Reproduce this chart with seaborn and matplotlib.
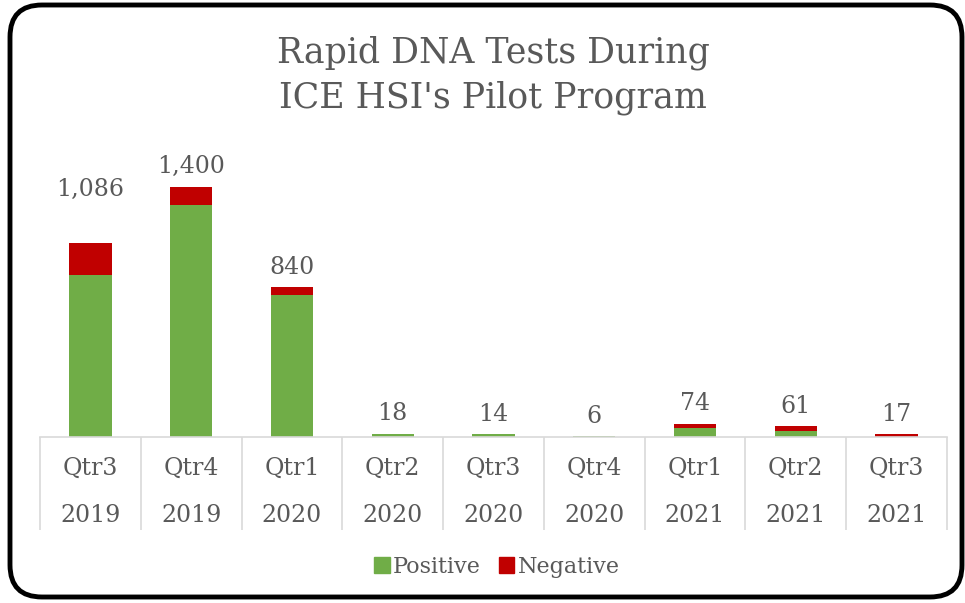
import matplotlib
matplotlib.use('Agg')
import matplotlib.pyplot as plt
import seaborn as sns
import pandas as pd
from matplotlib.patches import FancyBboxPatch, Patch
from matplotlib.transforms import IdentityTransform

quarters = ['Qtr3', 'Qtr4', 'Qtr1', 'Qtr2', 'Qtr3', 'Qtr4', 'Qtr1', 'Qtr2', 'Qtr3']
years = ['2019', '2019', '2020', '2020', '2020', '2020', '2021', '2021', '2021']
positive = [907, 1300, 795, 18, 14, 6, 50, 35, 0]
negative = [179, 100, 45, 0, 0, 0, 24, 26, 17]

labels = [q + '\n' + y for q, y in zip(quarters, years)]
df = pd.DataFrame({'period': labels, 'Positive': positive, 'Negative': negative})
df['Total'] = df['Positive'] + df['Negative']

green = '#70AD47'
red = '#C00000'
grey = '#595959'

sns.set_style('white')
plt.rcParams['font.family'] = ['DejaVu Serif']

fig = plt.figure(figsize=(9.65, 6.03), dpi=100)
ax = fig.add_axes([40 / 965, 166 / 603, 907 / 965, 286 / 603])

# total bar in red, positive drawn over it in green
sns.barplot(data=df, x='period', y='Total', color=red, width=0.42, saturation=1,
            linewidth=0, ax=ax)
sns.barplot(data=df, x='period', y='Positive', color=green, width=0.42, saturation=1,
            linewidth=0, ax=ax)

texts = ax.bar_label(ax.containers[0], labels=[f'{t:,}' for t in df['Total']],
                     padding=6, fontsize=17, color=grey)
# the first label sits higher in the original
texts[0].xyann = (0, 30.5)

ax.set_ylim(0, 1600)
ax.set_xlim(-0.5, len(labels) - 0.5)
ax.set_yticks([])
ax.set_xlabel('')
ax.set_ylabel('')
for s in ['top', 'right', 'left']:
    ax.spines[s].set_visible(False)
ax.spines['bottom'].set_color('#D9D9D9')
ax.spines['bottom'].set_linewidth(1.2)

ax.set_xticks(range(len(labels)))
ax.set_xticklabels(labels, fontsize=17, color=grey, linespacing=2.35)
ax.tick_params(axis='x', which='major', length=0, pad=14)
ax.set_xticks([i - 0.5 for i in range(len(labels) + 1)], minor=True)
ax.tick_params(axis='x', which='minor', bottom=True, length=67, width=1.2,
               color='#D9D9D9', direction='out')

fig.suptitle("Rapid DNA Tests During\nICE HSI's Pilot Program", x=493 / 965, y=1 - 35 / 603,
             va='top', fontsize=25, color=grey, linespacing=1.4)

handles = [Patch(color=green, label='Positive'), Patch(color=red, label='Negative')]
fig.legend(handles=handles, loc='center', bbox_to_anchor=(497 / 965, 1 - 567 / 603), ncol=2,
           frameon=False, fontsize=16, labelcolor=grey, handlelength=0.7, handleheight=0.7,
           handletextpad=0.15, columnspacing=0.8)

border = FancyBboxPatch((10, 6), 952, 592, boxstyle='round,pad=0,rounding_size=32',
                        transform=IdentityTransform(), fill=False, edgecolor='black', linewidth=3.5)
fig.patches.append(border)

fig.savefig('out.png', dpi=100)
